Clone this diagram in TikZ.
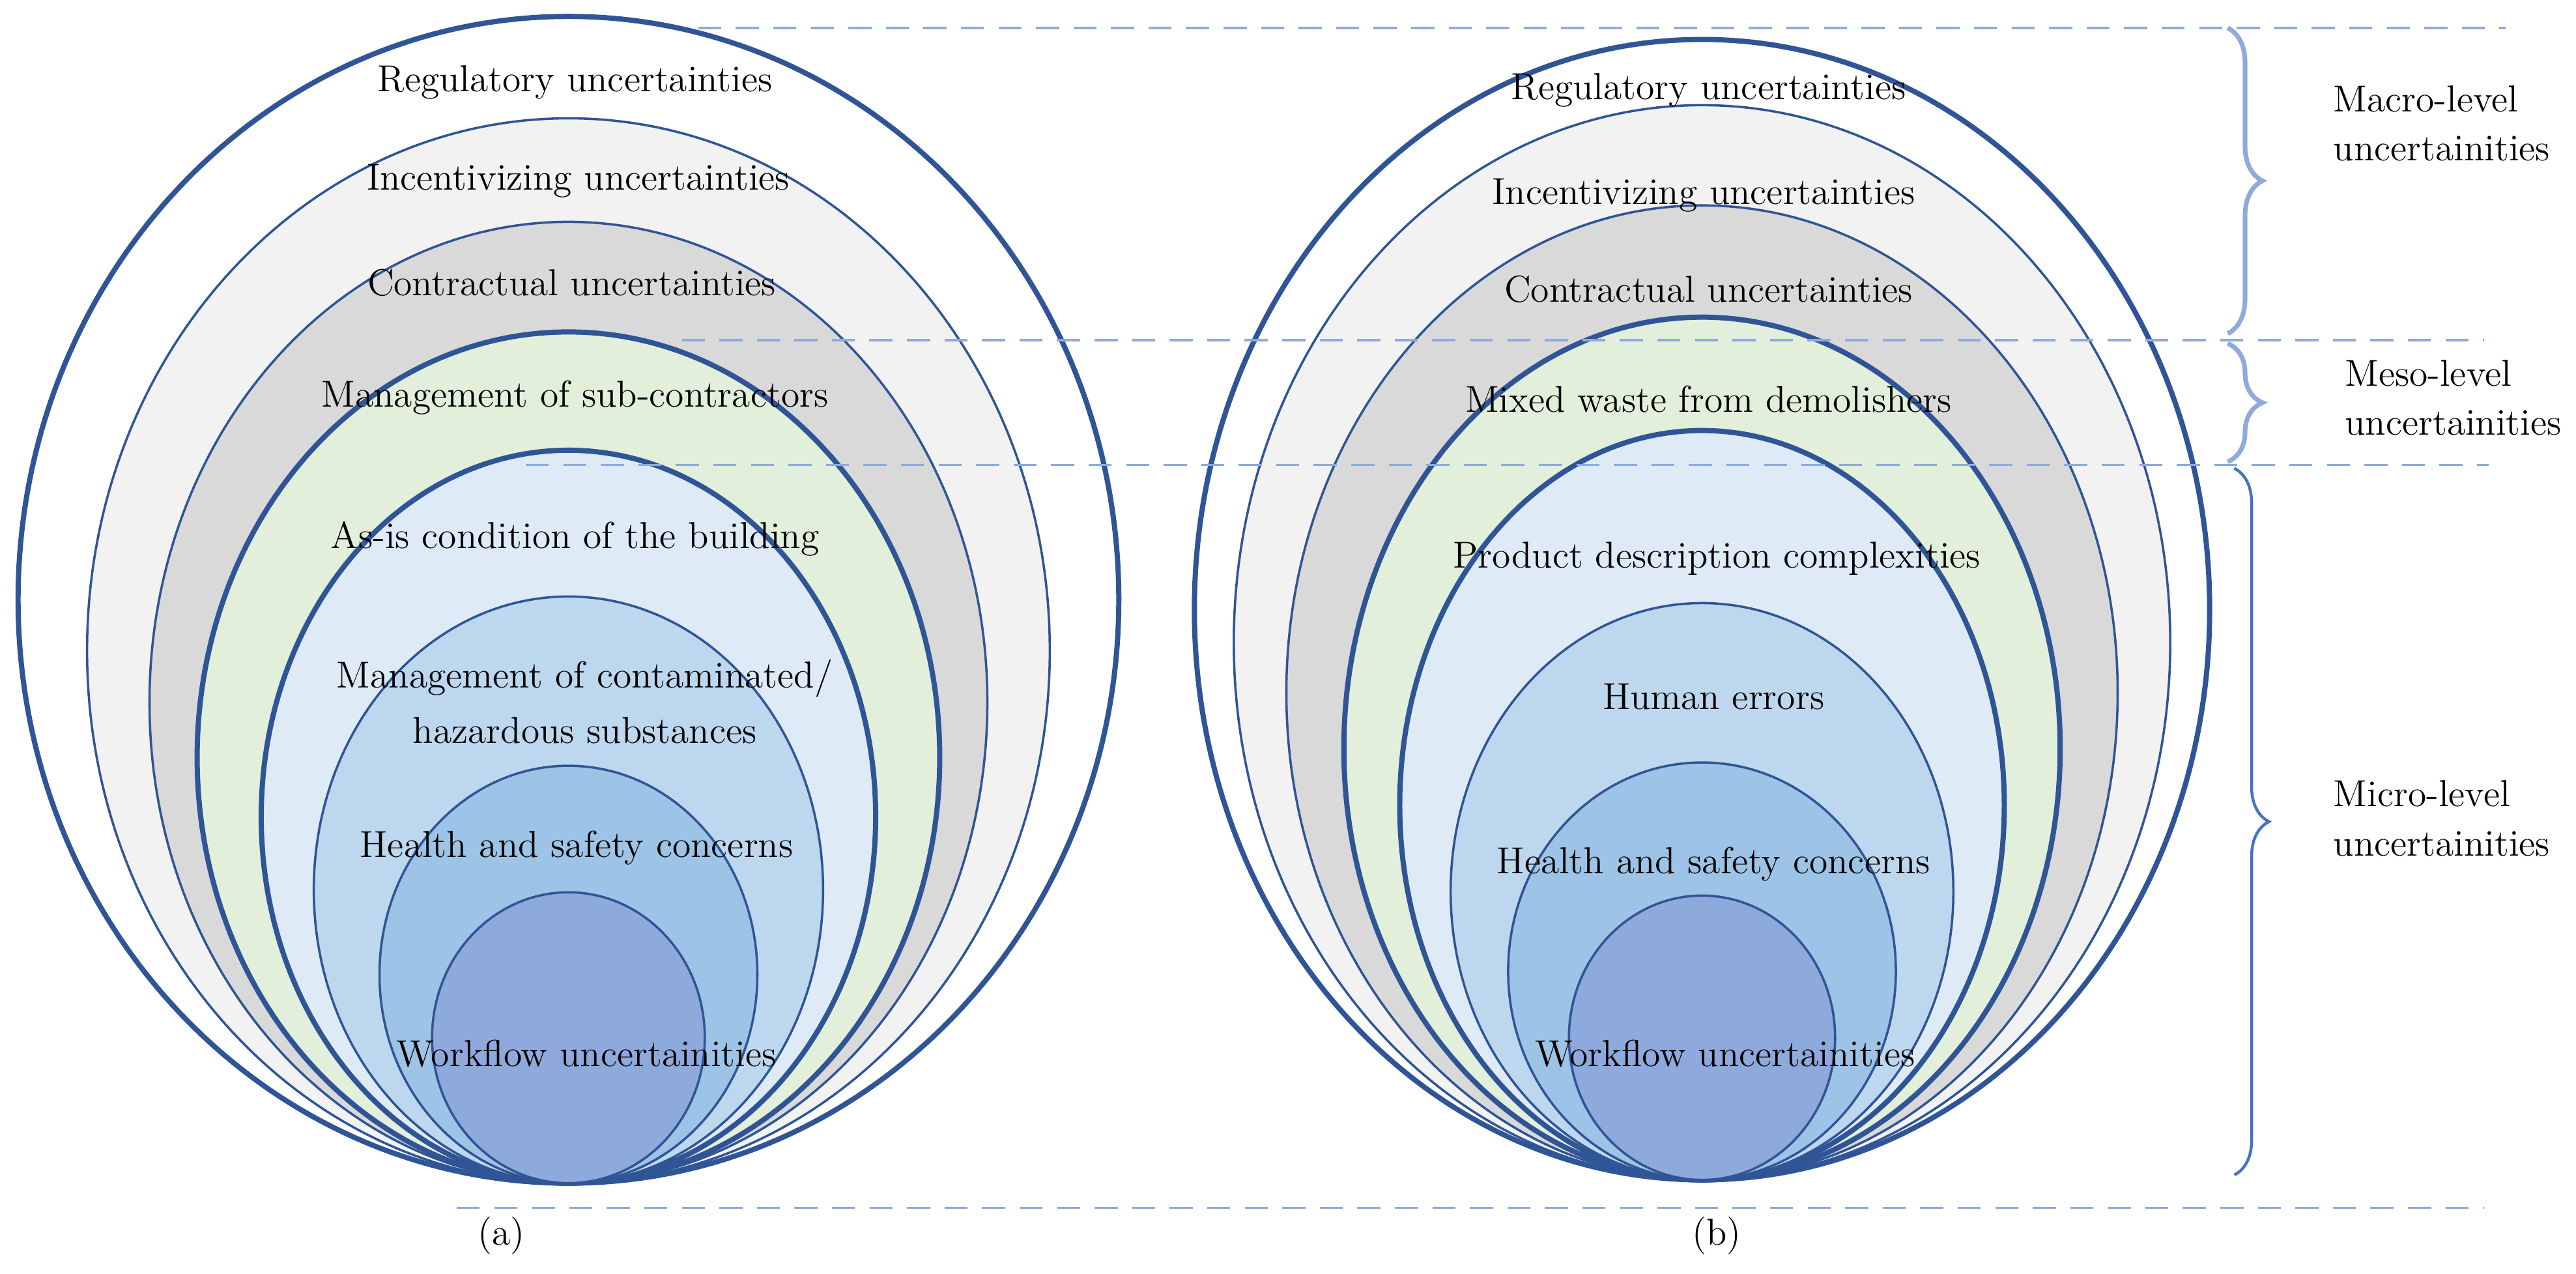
\documentclass[tikz,border=0pt]{standalone}
\usepackage{tikz}
\usetikzlibrary{shapes.geometric,decorations.pathreplacing,positioning}
\definecolor{ringblue}{HTML}{2F5597}
\definecolor{dashblue}{HTML}{8FAADC}
\definecolor{braceblue}{HTML}{4472C4}
\definecolor{rA}{HTML}{FFFFFF}
\definecolor{rB}{HTML}{F2F2F2}
\definecolor{rC}{HTML}{D9D9D9}
\definecolor{rD}{HTML}{E2EFDA}
\definecolor{rE}{HTML}{DEEBF7}
\definecolor{rF}{HTML}{BDD7EE}
\definecolor{rG}{HTML}{9DC3E6}
\definecolor{rH}{HTML}{8EA9DB}
\tikzset{ring/.style={ellipse, draw=ringblue, fill=#1, inner sep=0pt},
  thick ring/.style={line width=1.8pt},
  thin ring/.style={line width=0.8pt},
  label/.style={font=\fontsize{13}{15}\selectfont, inner sep=0pt},
  level/.style={font=\fontsize{13}{17}\selectfont, align=left, anchor=west, inner sep=0pt},
  guide/.style={draw=dashblue, dashed, dash pattern=on 8pt off 5pt, line width=0.8pt},
  curly/.style={decorate, decoration={brace, amplitude=12pt}, line width=1.6pt}}
\begin{document}
\begin{tikzpicture}[x=0.02cm, y=0.02cm]
\useasboundingbox (0,0) rectangle (1568,775);
		% Rings of (a)
		\foreach \l/\t/\f/\w [count=\i] in {11/10/rA/thick ring, 53/72/rB/thin ring, 91/135/rC/thin ring, 120/202/rD/thick ring, 159/274/rE/thick ring, 191/363/rF/thin ring, 231/466/rG/thin ring, 263/543/rH/thin ring}{
			\pgfmathsetmacro\rx{346-\l}
			\pgfmathsetmacro\ry{(720-\t)/2}
			\pgfmathsetmacro\cy{775-(720+\t)/2}
			\node[ring=\f, \w, minimum width=2*\rx*0.02cm, minimum height=2*\ry*0.02cm] (a\i) at (346,\cy) {};
		}
		% Rings of (b)
		\foreach \l/\t/\f/\w [count=\i] in {727/24/rA/thick ring, 751/64/rB/thin ring, 783/125/rC/thin ring, 818/193/rD/thick ring, 852/262/rE/thick ring, 883/367/rF/thin ring, 918/464/rG/thin ring, 955/545/rH/thin ring}{
			\pgfmathsetmacro\rx{1036-\l}
			\pgfmathsetmacro\ry{(718-\t)/2}
			\pgfmathsetmacro\cy{775-(718+\t)/2}
			\node[ring=\f, \w, minimum width=2*\rx*0.02cm, minimum height=2*\ry*0.02cm] (b\i) at (1036,\cy) {};
		}
		
		% Labels of (a)
		\node[label] (aReg) at (350,725) {Regulatory uncertainties};
		\node[label] (aInc) at (352,665) {Incentivizing uncertainties};
		\node[label] (aCon) at (348,603) {Contractual uncertainties};
		\node[label] (aSub) at (350,533) {Management of sub-contractors};
		\node[label] (aAsis) at (350,447) {As-is condition of the building};
		\node[label, align=center] (aHaz) at (356,348) {Management of contaminated/\\[4pt]hazardous substances};
		\node[label] (aHea) at (351,259) {Health and safety concerns};
		\node[label] (aWor) at (357,134) {Workflow uncertainities};
		\node[label] (aCap) at (305,23) {(a)};
		
		% Labels of (b)
		\node[label] (bReg) at (1040,720) {Regulatory uncertainties};
		\node[label] (bInc) at (1037,656) {Incentivizing uncertainties};
		\node[label] (bCon) at (1040,599) {Contractual uncertainties};
		\node[label] (bMix) at (1040,532) {Mixed waste from demolishers};
		\node[label] (bPro) at (1045,435) {Product description complexities};
		\node[label] (bHum) at (1043,351) {Human errors};
		\node[label] (bHea) at (1043,249) {Health and safety concerns};
		\node[label] (bWor) at (1050,134) {Workflow uncertainities};
		\node[label] (bCap) at (1045,23) {(b)};
		
		% Guides
		\coordinate (gTopL) at (425,758);  \coordinate (gTopR) at (1525,758);
		\coordinate (gMesL) at (415,568);  \coordinate (gMesR) at (1512,568);
		\coordinate (gMicL) at (320,492);  \coordinate (gMicR) at (1515,492);
		\coordinate (gBotL) at (278,40);   \coordinate (gBotR) at (1512,40);
		\path [guide] (gTopL) -- (gTopR);
		\path [guide] (gMesL) -- (gMesR);
		\path [guide] (gMicL) -- (gMicR);
		\path [guide] (gBotL) -- (gBotR);
		
		% Braces
		\coordinate (macTop) at (1356,758); \coordinate (macBot) at (1356,572);
		\coordinate (mesTop) at (1356,566); \coordinate (mesBot) at (1356,494);
		\coordinate (micTop) at (1360,490); \coordinate (micBot) at (1360,60);
		\draw [curly, draw=dashblue] (macTop) -- (macBot);
		\draw [curly, draw=dashblue] (mesTop) -- (mesBot);
		\draw [curly, draw=braceblue, line width=1pt] (micTop) -- (micBot);
		\node[level] (macro) at (1420,700) {Macro-level\\uncertainities};
		\node[level] (meso) at (1427,533) {Meso-level\\uncertainities};
		\node[level] (micro) at (1420,277) {Micro-level\\uncertainities};
\end{tikzpicture}
\end{document}
